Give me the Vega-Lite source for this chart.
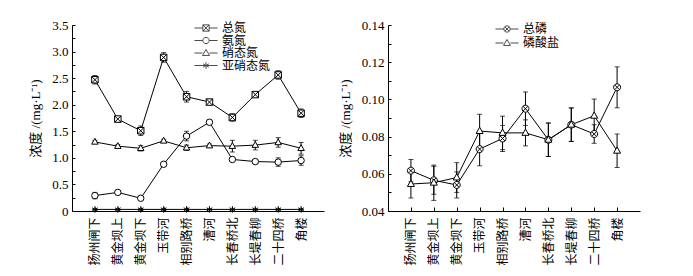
{
  "$schema": "https://vega.github.io/schema/vega-lite/v6.json",
  "padding": {"left": 29, "top": 19, "right": 5, "bottom": 5},
  "spacing": 15,
  "config": {
    "view": {"stroke": null},
    "font": "Liberation Serif, Noto Sans CJK SC",
    "axis": {"domainColor": "black", "tickColor": "black", "labelColor": "black", "titleColor": "black", "grid": false, "labelFont": "Liberation Serif, Noto Sans CJK SC", "titleFont": "Liberation Serif, Noto Sans CJK SC", "titleFontWeight": "normal"},
    "legend": {"labelFont": "Liberation Serif, Noto Sans CJK SC", "labelColor": "black"}
  },
  "datasets": {
    "N": [
      {"s": "总氮", "site": "扬州闸下", "v": 2.47, "e": 0.08},
      {"s": "总氮", "site": "黄金坝上", "v": 1.73, "e": 0.05},
      {"s": "总氮", "site": "黄金坝下", "v": 1.51, "e": 0.09},
      {"s": "总氮", "site": "玉带河", "v": 2.89, "e": 0.09},
      {"s": "总氮", "site": "相别路桥", "v": 2.15, "e": 0.1},
      {"s": "总氮", "site": "漕河", "v": 2.05, "e": 0.04},
      {"s": "总氮", "site": "长春桥北", "v": 1.76, "e": 0.07},
      {"s": "总氮", "site": "长堤春柳", "v": 2.19, "e": 0.03},
      {"s": "总氮", "site": "二十四桥", "v": 2.56, "e": 0.08},
      {"s": "总氮", "site": "角楼", "v": 1.84, "e": 0.08},
      {"s": "氨氮", "site": "扬州闸下", "v": 0.29, "e": 0.06},
      {"s": "氨氮", "site": "黄金坝上", "v": 0.35, "e": 0.03},
      {"s": "氨氮", "site": "黄金坝下", "v": 0.24, "e": 0.02},
      {"s": "氨氮", "site": "玉带河", "v": 0.88, "e": 0.03},
      {"s": "氨氮", "site": "相别路桥", "v": 1.41, "e": 0.09},
      {"s": "氨氮", "site": "漕河", "v": 1.67, "e": 0.04},
      {"s": "氨氮", "site": "长春桥北", "v": 0.97, "e": 0.03},
      {"s": "氨氮", "site": "长堤春柳", "v": 0.93, "e": 0.03},
      {"s": "氨氮", "site": "二十四桥", "v": 0.92, "e": 0.08},
      {"s": "氨氮", "site": "角楼", "v": 0.95, "e": 0.09},
      {"s": "硝态氮", "site": "扬州闸下", "v": 1.3, "e": 0.03},
      {"s": "硝态氮", "site": "黄金坝上", "v": 1.22, "e": 0.03},
      {"s": "硝态氮", "site": "黄金坝下", "v": 1.18, "e": 0.05},
      {"s": "硝态氮", "site": "玉带河", "v": 1.32, "e": 0.03},
      {"s": "硝态氮", "site": "相别路桥", "v": 1.19, "e": 0.05},
      {"s": "硝态氮", "site": "漕河", "v": 1.23, "e": 0.03},
      {"s": "硝态氮", "site": "长春桥北", "v": 1.22, "e": 0.11},
      {"s": "硝态氮", "site": "长堤春柳", "v": 1.24, "e": 0.09},
      {"s": "硝态氮", "site": "二十四桥", "v": 1.29, "e": 0.09},
      {"s": "硝态氮", "site": "角楼", "v": 1.18, "e": 0.11},
      {"s": "亚硝态氮", "site": "扬州闸下", "v": 0.03, "e": 0},
      {"s": "亚硝态氮", "site": "黄金坝上", "v": 0.03, "e": 0},
      {"s": "亚硝态氮", "site": "黄金坝下", "v": 0.03, "e": 0},
      {"s": "亚硝态氮", "site": "玉带河", "v": 0.03, "e": 0},
      {"s": "亚硝态氮", "site": "相别路桥", "v": 0.03, "e": 0},
      {"s": "亚硝态氮", "site": "漕河", "v": 0.03, "e": 0},
      {"s": "亚硝态氮", "site": "长春桥北", "v": 0.03, "e": 0},
      {"s": "亚硝态氮", "site": "长堤春柳", "v": 0.03, "e": 0},
      {"s": "亚硝态氮", "site": "二十四桥", "v": 0.03, "e": 0},
      {"s": "亚硝态氮", "site": "角楼", "v": 0.03, "e": 0}
    ],
    "P": [
      {"s": "总磷", "site": "扬州闸下", "v": 0.0617, "e": 0.006},
      {"s": "总磷", "site": "黄金坝上", "v": 0.0565, "e": 0.0075},
      {"s": "总磷", "site": "黄金坝下", "v": 0.054, "e": 0.007},
      {"s": "总磷", "site": "玉带河", "v": 0.0733, "e": 0.009},
      {"s": "总磷", "site": "相别路桥", "v": 0.079, "e": 0.007},
      {"s": "总磷", "site": "漕河", "v": 0.095, "e": 0.009},
      {"s": "总磷", "site": "长春桥北", "v": 0.0783, "e": 0.009},
      {"s": "总磷", "site": "长堤春柳", "v": 0.0864, "e": 0.009},
      {"s": "总磷", "site": "二十四桥", "v": 0.0814, "e": 0.005},
      {"s": "总磷", "site": "角楼", "v": 0.1065, "e": 0.011},
      {"s": "磷酸盐", "site": "扬州闸下", "v": 0.0545, "e": 0.0075},
      {"s": "磷酸盐", "site": "黄金坝上", "v": 0.0552, "e": 0.0095},
      {"s": "磷酸盐", "site": "黄金坝下", "v": 0.058, "e": 0.008},
      {"s": "磷酸盐", "site": "玉带河", "v": 0.083, "e": 0.009},
      {"s": "磷酸盐", "site": "相别路桥", "v": 0.082, "e": 0.009},
      {"s": "磷酸盐", "site": "漕河", "v": 0.082, "e": 0.007},
      {"s": "磷酸盐", "site": "长春桥北", "v": 0.0783, "e": 0.009},
      {"s": "磷酸盐", "site": "长堤春柳", "v": 0.0864, "e": 0.009},
      {"s": "磷酸盐", "site": "二十四桥", "v": 0.0912, "e": 0.009},
      {"s": "磷酸盐", "site": "角楼", "v": 0.0724, "e": 0.009}
    ]
  },
  "hconcat": [
    {
      "width": 252,
      "height": 186,
      "data": {"name": "N"},
      "encoding": {
        "x": {"field": "site", "type": "ordinal", "sort": ["扬州闸下", "黄金坝上", "黄金坝下", "玉带河", "相别路桥", "漕河", "长春桥北", "长堤春柳", "二十四桥", "角楼"], "scale": {"type": "point", "padding": 1},
          "axis": {"title": null, "labelAngle": -90, "labelFontSize": 12, "tickSize": -4, "labelPadding": 10, "domainWidth": 1}},
        "y": {"field": "v", "type": "quantitative", "scale": {"domain": [0, 3.5], "nice": false, "zero": false},
          "axis": {"title": "浓度 /(mg·L⁻¹)", "titleFontSize": 13, "titlePadding": 9, "values": [0, 0.25, 0.5, 0.75, 1, 1.25, 1.5, 1.75, 2, 2.25, 2.5, 2.75, 3, 3.25, 3.5], "labelExpr": "datum.value % 0.5 == 0 ? (datum.value == 0 ? '0' : format(datum.value, '.1f')) : ''", "labelFontSize": 13, "tickSize": -3, "labelPadding": 7}}
      },
      "layer": [
        {"mark": {"type": "line", "color": "black", "strokeWidth": 1}, "encoding": {"detail": {"field": "s"}}},
        {"mark": {"type": "errorbar", "ticks": {"size": 5, "color": "black"}, "rule": {"color": "black"}, "color": "black", "thickness": 1}, "encoding": {"yError": {"field": "e"}}},
        {"mark": {"type": "point", "filled": false, "fill": "white", "fillOpacity": 1, "stroke": "black", "strokeWidth": 1, "size": 42, "opacity": 1},
          "encoding": {"shape": {"field": "s", "type": "nominal", "legend": null, "scale": {"domain": ["总氮", "氨氮", "硝态氮", "亚硝态氮"], "range": ["M-1,-1H1V1H-1ZM-1,-1L1,1M1,-1L-1,1", "circle", "M0,-1.1L1,0.7H-1Z", "M0,-1V1M-0.87,-0.5L0.87,0.5M0.87,-0.5L-0.87,0.5"]}}}},
        {"transform": [{"filter": "datum.v < -100"}],
          "mark": {"type": "point", "filled": false, "stroke": "black", "strokeWidth": 1},
          "encoding": {"shape": {"field": "s", "type": "nominal", "scale": {"domain": ["总氮", "氨氮", "硝态氮", "亚硝态氮"], "range": ["M-3.3,0H-0.9M0.9,0H3.3M-0.9,-0.9H0.9V0.9H-0.9ZM-0.9,-0.9L0.9,0.9M0.9,-0.9L-0.9,0.9", "M-3.3,0H-0.9M0.9,0H3.3M-0.9,0A0.9,0.9 0 1,0 0.9,0A0.9,0.9 0 1,0 -0.9,0Z", "M-3.3,0H-1M1,0H3.3M0,-1L1,0.7H-1Z", "M-3.3,0H3.3M0,-0.95V0.95M-0.82,-0.47L0.82,0.47M0.82,-0.47L-0.82,0.47"]},
            "legend": {"title": null, "orient": "none", "legendX": 128, "legendY": -3, "symbolSize": 49, "symbolStrokeWidth": 1, "symbolStrokeColor": "black", "symbolFillColor": "white", "labelFontSize": 12, "rowPadding": 0.5, "labelOffset": 10}}}}
      ],
      "resolve": {"scale": {"shape": "independent"}}
    },
    {
      "width": 252,
      "height": 186,
      "data": {"name": "P"},
      "encoding": {
        "x": {"field": "site", "type": "ordinal", "sort": ["扬州闸下", "黄金坝上", "黄金坝下", "玉带河", "相别路桥", "漕河", "长春桥北", "长堤春柳", "二十四桥", "角楼"], "scale": {"type": "point", "padding": 1},
          "axis": {"title": null, "labelAngle": -90, "labelFontSize": 12, "tickSize": -4, "labelPadding": 10, "domainWidth": 1}},
        "y": {"field": "v", "type": "quantitative", "scale": {"domain": [0.04, 0.14], "nice": false, "zero": false},
          "axis": {"title": "浓度 /(mg·L⁻¹)", "titleFontSize": 13, "titlePadding": 9, "values": [0.04, 0.05, 0.06, 0.07, 0.08, 0.09, 0.1, 0.11, 0.12, 0.13, 0.14], "labelExpr": "indexof(['0.04','0.06','0.08','0.10','0.12','0.14'], format(datum.value, '.2f')) >= 0 ? format(datum.value, '.2f') : ''", "labelFontSize": 13, "tickSize": -3, "labelPadding": 7}}
      },
      "layer": [
        {"mark": {"type": "line", "color": "black", "strokeWidth": 1}, "encoding": {"detail": {"field": "s"}}},
        {"mark": {"type": "errorbar", "ticks": {"size": 5, "color": "black"}, "rule": {"color": "black"}, "color": "black", "thickness": 1}, "encoding": {"yError": {"field": "e"}}},
        {"mark": {"type": "point", "filled": false, "fill": "white", "fillOpacity": 1, "stroke": "black", "strokeWidth": 1, "size": 49, "opacity": 1},
          "encoding": {"shape": {"field": "s", "type": "nominal", "legend": null, "scale": {"domain": ["总磷", "磷酸盐"], "range": ["M-1,0A1,1 0 1,0 1,0A1,1 0 1,0 -1,0ZM-0.7,-0.7L0.7,0.7M0.7,-0.7L-0.7,0.7", "M0,-1.1L1,0.7H-1Z"]}}}},
        {"transform": [{"filter": "datum.v < -100"}],
          "mark": {"type": "point", "filled": false, "stroke": "black", "strokeWidth": 1},
          "encoding": {"shape": {"field": "s", "type": "nominal", "scale": {"domain": ["总磷", "磷酸盐"], "range": ["M-3.3,0H-0.9M0.9,0H3.3M-0.9,0A0.9,0.9 0 1,0 0.9,0A0.9,0.9 0 1,0 -0.9,0ZM-0.64,-0.64L0.64,0.64M0.64,-0.64L-0.64,0.64", "M-3.3,0H-1M1,0H3.3M0,-1L1,0.7H-1Z"]},
            "legend": {"title": null, "orient": "none", "legendX": 113, "legendY": -2, "symbolSize": 49, "symbolStrokeWidth": 1, "symbolStrokeColor": "black", "symbolFillColor": "white", "labelFontSize": 12, "rowPadding": 2, "labelOffset": 10}}}}
      ],
      "resolve": {"scale": {"shape": "independent"}}
    }
  ]
}
